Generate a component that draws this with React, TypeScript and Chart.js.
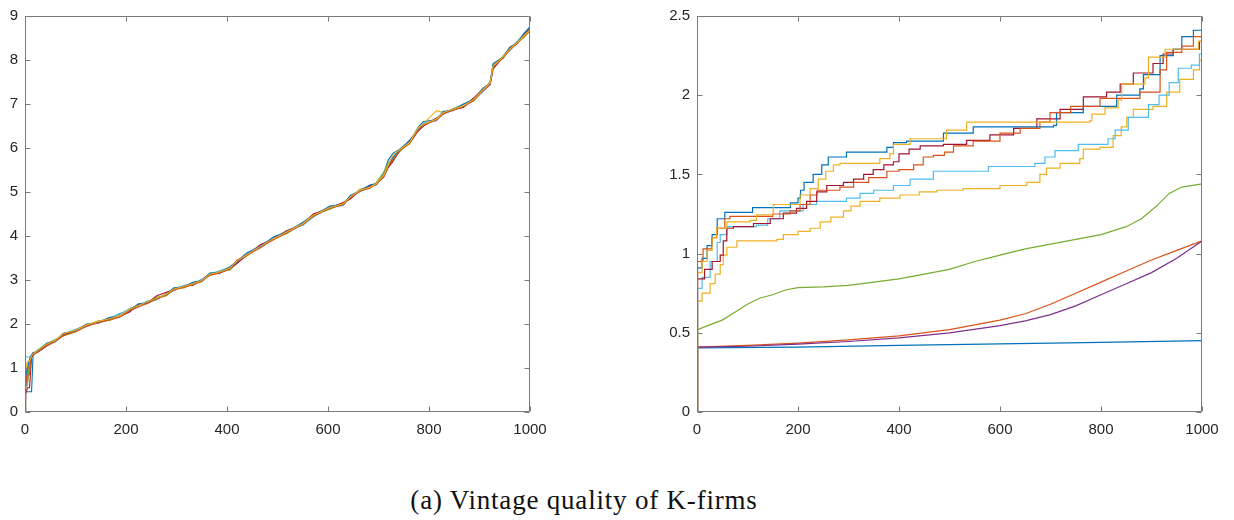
import React, { useEffect, useRef } from "react";
import { Chart, registerables } from "chart.js";

Chart.register(...registerables);

// ---------- shared ticks ----------
const xTicks = [0, 200, 400, 600, 800, 1000];
const leftYTicks = [0, 1, 2, 3, 4, 5, 6, 7, 8, 9];
const rightYTicks = [0, 0.5, 1, 1.5, 2, 2.5];

// MATLAB default colour order
const colors = ["#0072BD", "#D95319", "#EDB120", "#7E2F8E", "#77AC30", "#4DBEEE", "#A2142F", "#0072BD", "#D95319", "#EDB120"];

// ---------- left panel: shared x steps, one y array per run ----------
const leftX = [0, 1, 5, 9, 13, 16, 25, 43, 60, 76, 100, 122, 145, 168, 188, 208, 225, 241, 261, 280, 294, 315, 333, 350, 366, 385, 406, 419, 440, 466, 492, 518, 551, 571, 604, 630, 644, 663, 683, 696, 710, 719, 729, 743, 762, 779, 789, 815, 828, 848, 868, 888, 907, 921, 927, 947, 960, 974, 987, 1000];

const left1 = [0, 0.46, 0.46, 0.46, 0.46, 1.30, 1.37, 1.53, 1.64, 1.74, 1.85, 1.96, 2.05, 2.12, 2.24, 2.31, 2.40, 2.50, 2.60, 2.66, 2.76, 2.86, 2.92, 3.00, 3.10, 3.18, 3.27, 3.40, 3.60, 3.74, 3.95, 4.10, 4.26, 4.48, 4.62, 4.74, 4.86, 5.05, 5.12, 5.18, 5.40, 5.72, 5.88, 5.98, 6.14, 6.48, 6.60, 6.64, 6.78, 6.86, 6.96, 7.08, 7.30, 7.50, 7.86, 8.05, 8.26, 8.40, 8.52, 8.72];
const left2 = [0, 0.70, 0.70, 1.00, 1.28, 1.33, 1.39, 1.51, 1.61, 1.77, 1.83, 1.98, 2.03, 2.11, 2.16, 2.34, 2.42, 2.47, 2.57, 2.68, 2.79, 2.84, 2.91, 2.97, 3.13, 3.16, 3.25, 3.43, 3.56, 3.77, 3.92, 4.07, 4.29, 4.45, 4.65, 4.71, 4.89, 5.02, 5.11, 5.20, 5.35, 5.58, 5.73, 5.95, 6.13, 6.41, 6.52, 6.66, 6.80, 6.88, 6.94, 7.10, 7.33, 7.46, 7.84, 8.08, 8.23, 8.39, 8.54, 8.67];
const left3 = [0, 0.90, 1.10, 1.10, 1.25, 1.31, 1.40, 1.54, 1.60, 1.78, 1.86, 1.95, 2.06, 2.09, 2.18, 2.35, 2.43, 2.46, 2.59, 2.65, 2.80, 2.83, 2.89, 2.99, 3.11, 3.19, 3.24, 3.44, 3.55, 3.78, 3.91, 4.09, 4.27, 4.47, 4.63, 4.73, 4.87, 5.04, 5.09, 5.21, 5.34, 5.62, 5.76, 5.94, 6.10, 6.45, 6.56, 6.85, 6.81, 6.86, 6.97, 7.07, 7.31, 7.48, 7.88, 8.06, 8.22, 8.37, 8.55, 8.75];
const left4 = [0, 0.50, 1.00, 1.00, 1.30, 1.34, 1.36, 1.50, 1.63, 1.75, 1.87, 1.99, 2.02, 2.13, 2.19, 2.32, 2.39, 2.51, 2.56, 2.69, 2.77, 2.87, 2.88, 3.01, 3.14, 3.15, 3.28, 3.41, 3.58, 3.79, 3.94, 4.06, 4.30, 4.44, 4.66, 4.70, 4.90, 5.01, 5.13, 5.17, 5.37, 5.60, 5.75, 5.97, 6.11, 6.40, 6.54, 6.63, 6.77, 6.89, 6.93, 7.11, 7.29, 7.45, 7.83, 8.09, 8.27, 8.36, 8.56, 8.70];
const left5 = [0, 0.60, 0.60, 1.20, 1.27, 1.30, 1.41, 1.55, 1.65, 1.73, 1.82, 1.96, 2.07, 2.08, 2.20, 2.30, 2.44, 2.49, 2.61, 2.64, 2.81, 2.82, 2.93, 2.96, 3.15, 3.20, 3.23, 3.39, 3.59, 3.75, 3.96, 4.05, 4.31, 4.49, 4.61, 4.75, 4.85, 5.06, 5.08, 5.22, 5.45, 5.66, 5.78, 5.93, 6.15, 6.44, 6.51, 6.67, 6.76, 6.90, 6.98, 7.06, 7.34, 7.49, 7.90, 8.04, 8.25, 8.41, 8.50, 8.66];
const left6 = [0, 1.25, 1.25, 1.25, 1.30, 1.33, 1.37, 1.53, 1.59, 1.77, 1.88, 1.94, 2.05, 2.14, 2.22, 2.36, 2.40, 2.52, 2.55, 2.70, 2.76, 2.88, 2.91, 3.02, 3.10, 3.21, 3.29, 3.38, 3.61, 3.74, 3.97, 4.11, 4.25, 4.43, 4.67, 4.69, 4.91, 5.00, 5.14, 5.16, 5.38, 5.57, 5.72, 5.99, 6.16, 6.43, 6.57, 6.62, 6.82, 6.85, 6.99, 7.12, 7.28, 7.51, 7.82, 8.10, 8.21, 8.42, 8.57, 8.74];
const left7 = [0, 0.40, 0.55, 0.55, 1.25, 1.29, 1.39, 1.52, 1.62, 1.76, 1.84, 1.97, 2.04, 2.11, 2.17, 2.28, 2.45, 2.47, 2.64, 2.72, 2.78, 2.85, 2.94, 2.98, 3.12, 3.17, 3.26, 3.37, 3.57, 3.80, 3.93, 4.12, 4.28, 4.50, 4.64, 4.76, 4.84, 5.03, 5.15, 5.19, 5.33, 5.55, 5.70, 5.96, 6.17, 6.39, 6.50, 6.68, 6.79, 6.87, 6.92, 7.13, 7.35, 7.44, 7.80, 8.07, 8.28, 8.38, 8.58, 8.71];
const left8 = [0, 0.80, 1.00, 1.20, 1.30, 1.35, 1.38, 1.56, 1.62, 1.79, 1.84, 2.00, 2.04, 2.15, 2.17, 2.33, 2.46, 2.48, 2.58, 2.67, 2.82, 2.85, 2.95, 2.98, 3.16, 3.17, 3.30, 3.42, 3.62, 3.76, 3.98, 4.08, 4.32, 4.46, 4.68, 4.72, 4.92, 5.03, 5.16, 5.19, 5.36, 5.59, 5.80, 5.96, 6.18, 6.42, 6.53, 6.65, 6.83, 6.87, 7.00, 7.09, 7.36, 7.47, 7.92, 8.07, 8.29, 8.38, 8.59, 8.76];
const left9 = [0, 0.65, 0.85, 0.85, 1.30, 1.31, 1.36, 1.50, 1.60, 1.74, 1.83, 1.95, 2.03, 2.09, 2.16, 2.31, 2.39, 2.46, 2.57, 2.66, 2.77, 2.84, 2.89, 2.97, 3.11, 3.16, 3.25, 3.45, 3.56, 3.73, 3.92, 4.07, 4.27, 4.45, 4.63, 4.71, 4.87, 5.02, 5.09, 5.18, 5.35, 5.58, 5.73, 5.95, 6.11, 6.41, 6.52, 6.64, 6.78, 6.86, 6.94, 7.08, 7.31, 7.46, 7.84, 8.06, 8.23, 8.37, 8.52, 8.67];
const left10 = [0, 1.00, 1.15, 1.15, 1.28, 1.32, 1.40, 1.54, 1.63, 1.78, 1.86, 1.98, 2.06, 2.12, 2.19, 2.34, 2.42, 2.50, 2.59, 2.68, 2.79, 2.86, 2.92, 2.99, 3.13, 3.18, 3.27, 3.43, 3.58, 3.77, 3.94, 4.09, 4.29, 4.47, 4.65, 4.73, 4.89, 5.04, 5.11, 5.20, 5.37, 5.61, 5.85, 5.97, 6.13, 6.47, 6.54, 6.66, 6.80, 6.88, 6.96, 7.10, 7.33, 7.48, 7.86, 8.08, 8.25, 8.39, 8.54, 8.69];

const leftSeries = [left1, left2, left3, left4, left5, left6, left7, left8, left9, left10];

// ---------- right panel ----------
const r1X = [0, 1, 200, 400, 600, 800, 1000];
const r1Y = [0, 0.405, 0.41, 0.42, 0.43, 0.44, 0.45];

const r2X = [0, 1, 100, 200, 300, 400, 500, 600, 650, 700, 750, 800, 850, 900, 950, 1000];
const r2Y = [0, 0.41, 0.42, 0.435, 0.455, 0.48, 0.52, 0.58, 0.62, 0.68, 0.75, 0.82, 0.89, 0.96, 1.02, 1.08];

const r3X = [0, 1, 10, 26, 36, 46, 52, 59, 79, 158, 171, 200, 224, 244, 265, 290, 305, 323, 362, 402, 440, 475, 527, 600, 653, 679, 692, 719, 758, 765, 798, 824, 840, 851, 864, 903, 930, 956, 983, 995, 1000];
const r3Y = [0, 0.70, 0.75, 0.81, 0.87, 0.93, 0.99, 1.04, 1.08, 1.09, 1.12, 1.14, 1.16, 1.20, 1.23, 1.27, 1.30, 1.33, 1.35, 1.37, 1.39, 1.40, 1.41, 1.43, 1.45, 1.50, 1.54, 1.57, 1.60, 1.66, 1.67, 1.745, 1.80, 1.86, 1.91, 1.93, 2.02, 2.10, 2.16, 2.22, 2.24];

const r4X = [0, 1, 100, 200, 300, 400, 500, 600, 650, 700, 750, 800, 850, 900, 950, 1000];
const r4Y = [0, 0.41, 0.415, 0.428, 0.445, 0.468, 0.50, 0.545, 0.575, 0.615, 0.67, 0.74, 0.81, 0.88, 0.97, 1.08];

const r5X = [0, 1, 25, 50, 75, 100, 125, 150, 175, 200, 250, 300, 350, 400, 450, 500, 550, 600, 650, 700, 750, 800, 850, 880, 910, 935, 960, 1000];
const r5Y = [0, 0.52, 0.55, 0.58, 0.63, 0.68, 0.72, 0.74, 0.77, 0.785, 0.79, 0.80, 0.82, 0.84, 0.87, 0.90, 0.95, 0.99, 1.03, 1.06, 1.09, 1.12, 1.17, 1.22, 1.30, 1.38, 1.42, 1.44];

const r6X = [0, 1, 10, 26, 40, 46, 59, 118, 140, 164, 210, 237, 296, 323, 350, 389, 422, 468, 577, 669, 689, 709, 755, 814, 828, 854, 894, 915, 935, 953, 979, 995, 1000];
const r6Y = [0, 0.78, 0.85, 0.95, 1.07, 1.12, 1.17, 1.18, 1.22, 1.27, 1.31, 1.33, 1.35, 1.38, 1.40, 1.43, 1.47, 1.52, 1.55, 1.57, 1.61, 1.65, 1.69, 1.725, 1.78, 1.86, 1.94, 2.00, 2.08, 2.17, 2.19, 2.26, 2.28];

const r7X = [0, 1, 15, 30, 46, 52, 59, 72, 112, 145, 171, 197, 217, 237, 257, 290, 310, 330, 349, 370, 389, 400, 420, 442, 488, 534, 580, 627, 673, 719, 765, 811, 838, 864, 903, 923, 943, 995, 1000];
const r7Y = [0, 0.84, 0.90, 0.95, 0.99, 1.08, 1.16, 1.17, 1.19, 1.22, 1.255, 1.286, 1.33, 1.39, 1.43, 1.45, 1.47, 1.50, 1.53, 1.56, 1.58, 1.63, 1.66, 1.68, 1.69, 1.715, 1.75, 1.79, 1.85, 1.91, 1.99, 2.02, 2.07, 2.14, 2.20, 2.26, 2.29, 2.34, 2.34];

const r8X = [0, 1, 10, 20, 30, 40, 55, 110, 185, 200, 205, 212, 230, 247, 260, 296, 376, 389, 415, 488, 547, 706, 712, 765, 831, 877, 884, 917, 943, 960, 983, 1000];
const r8Y = [0, 0.91, 0.97, 1.05, 1.12, 1.22, 1.26, 1.29, 1.32, 1.35, 1.40, 1.45, 1.50, 1.56, 1.61, 1.64, 1.67, 1.70, 1.71, 1.76, 1.80, 1.81, 1.89, 1.93, 2.00, 2.04, 2.13, 2.25, 2.29, 2.37, 2.41, 2.41];

const r9X = [0, 1, 12, 29, 39, 55, 65, 150, 184, 204, 224, 238, 283, 310, 340, 376, 400, 429, 448, 468, 490, 508, 547, 600, 640, 679, 699, 740, 798, 877, 917, 930, 960, 983, 1000];
const r9Y = [0, 0.95, 1.03, 1.10, 1.16, 1.22, 1.235, 1.25, 1.27, 1.31, 1.37, 1.40, 1.42, 1.45, 1.48, 1.52, 1.53, 1.56, 1.61, 1.62, 1.64, 1.68, 1.71, 1.76, 1.79, 1.83, 1.89, 1.93, 1.98, 2.02, 2.16, 2.27, 2.31, 2.37, 2.37];

const r10X = [0, 1, 10, 20, 30, 39, 59, 105, 118, 151, 204, 224, 240, 255, 270, 283, 362, 382, 389, 422, 494, 534, 778, 782, 808, 834, 841, 887, 894, 927, 993, 1000];
const r10Y = [0, 0.88, 0.95, 1.02, 1.10, 1.16, 1.20, 1.21, 1.245, 1.31, 1.37, 1.41, 1.47, 1.52, 1.56, 1.57, 1.60, 1.63, 1.69, 1.725, 1.78, 1.83, 1.84, 1.88, 1.92, 1.97, 2.07, 2.11, 2.24, 2.29, 2.34, 2.38];

const rightSeries = [
  { xs: r1X, ys: r1Y, stepped: false },
  { xs: r2X, ys: r2Y, stepped: false },
  { xs: r3X, ys: r3Y, stepped: true },
  { xs: r4X, ys: r4Y, stepped: false },
  { xs: r5X, ys: r5Y, stepped: false },
  { xs: r6X, ys: r6Y, stepped: true },
  { xs: r7X, ys: r7Y, stepped: true },
  { xs: r8X, ys: r8Y, stepped: true },
  { xs: r9X, ys: r9Y, stepped: true },
  { xs: r10X, ys: r10Y, stepped: true },
];

const AXIS_COLOR = "#7a7a7a";
const TEXT_COLOR = "#262626";
const TICK_FONT = { family: "'Liberation Sans', Arial, sans-serif", size: 15 };

const framePlugin = {
  id: "matlabFrame",
  afterDraw(chart: any) {
    const { ctx, chartArea: a, scales } = chart;
    const xs = scales.x;
    const ys = scales.y;
    const L = Math.round(a.left) + 0.5;
    const R = Math.round(a.right) - 0.5;
    const T = Math.round(a.top) + 0.5;
    const B = Math.round(a.bottom) - 0.5;
    const len = 5;
    ctx.save();
    ctx.strokeStyle = AXIS_COLOR;
    ctx.lineWidth = 1;
    ctx.beginPath();
    ctx.rect(L, T, R - L, B - T);
    for (const t of xs.ticks) {
      const px = Math.round(xs.getPixelForValue(t.value)) + 0.5;
      ctx.moveTo(px, B);
      ctx.lineTo(px, B - len);
      ctx.moveTo(px, T);
      ctx.lineTo(px, T + len);
    }
    for (const t of ys.ticks) {
      const py = Math.round(ys.getPixelForValue(t.value)) + 0.5;
      ctx.moveTo(L, py);
      ctx.lineTo(L + len, py);
      ctx.moveTo(R, py);
      ctx.lineTo(R - len, py);
    }
    ctx.stroke();
    ctx.restore();
  },
};

function makeConfig(datasets: any[], yMax: number, yTicks: number[], yAxisWidth: number, padRight: number) {
  return {
    type: "line",
    data: { datasets },
    options: {
      animation: false,
      responsive: false,
      devicePixelRatio: 1,
      layout: { padding: { left: 0, right: padRight, top: 13, bottom: 0 } },
      plugins: { legend: { display: false }, tooltip: { enabled: false } },
      elements: { point: { radius: 0 } },
      scales: {
        x: {
          type: "linear",
          min: 0,
          max: 1000,
          grid: { display: false, drawTicks: false },
          border: { display: false },
          ticks: { font: TICK_FONT, color: TEXT_COLOR, padding: 9, maxRotation: 0, autoSkip: false, callback: (v: number) => String(v) },
          afterBuildTicks: (s: any) => {
            s.ticks = xTicks.map((v) => ({ value: v }));
          },
          afterFit: (s: any) => {
            s.height = 38;
          },
        },
        y: {
          type: "linear",
          min: 0,
          max: yMax,
          grid: { display: false, drawTicks: false },
          border: { display: false },
          ticks: { font: TICK_FONT, color: TEXT_COLOR, padding: 7, autoSkip: false, callback: (v: number) => String(v) },
          afterBuildTicks: (s: any) => {
            s.ticks = yTicks.map((v) => ({ value: v }));
          },
          afterFit: (s: any) => {
            s.width = yAxisWidth;
          },
        },
      },
    },
    plugins: [framePlugin],
  };
}

function leftDatasets() {
  return leftSeries.map((ys, i) => ({
    data: leftX.map((x, j) => ({ x, y: ys[j] })),
    borderColor: colors[i],
    borderWidth: 1.1,
    stepped: false,
    tension: 0,
    fill: false,
    pointRadius: 0,
    order: -i,
  }));
}

function rightDatasets() {
  return rightSeries.map((s, i) => ({
    data: s.xs.map((x, j) => ({ x, y: s.ys[j] })),
    borderColor: colors[i],
    borderWidth: 1.2,
    stepped: s.stepped,
    tension: 0,
    fill: false,
    pointRadius: 0,
    order: -i,
  }));
}

export default function App() {
  const leftRef = useRef<HTMLCanvasElement | null>(null);
  const rightRef = useRef<HTMLCanvasElement | null>(null);

  useEffect(() => {
    const c1 = new Chart(leftRef.current as any, makeConfig(leftDatasets(), 9, leftYTicks, 25, 30) as any);
    const c2 = new Chart(rightRef.current as any, makeConfig(rightDatasets(), 2.5, rightYTicks, 57, 32) as any);
    return () => {
      c1.destroy();
      c2.destroy();
    };
  }, []);

  return (
    <div style={{ position: "absolute", left: 0, top: 0, width: 1234, height: 520, background: "#fff", overflow: "hidden" }}>
      <canvas ref={leftRef} width={560} height={450} style={{ position: "absolute", left: 0, top: 0, width: 560, height: 450 }} />
      <canvas ref={rightRef} width={594} height={450} style={{ position: "absolute", left: 640, top: 0, width: 594, height: 450 }} />
      <div
        style={{
          position: "absolute",
          left: 0,
          top: 485,
          width: 1168,
          textAlign: "center",
          fontFamily: "'Liberation Serif', 'DejaVu Serif', serif",
          fontSize: 27,
          letterSpacing: "0.8px",
          lineHeight: "30px",
          color: "#111",
          whiteSpace: "nowrap",
        }}
      >
        (a) Vintage quality of K-firms
      </div>
    </div>
  );
}
